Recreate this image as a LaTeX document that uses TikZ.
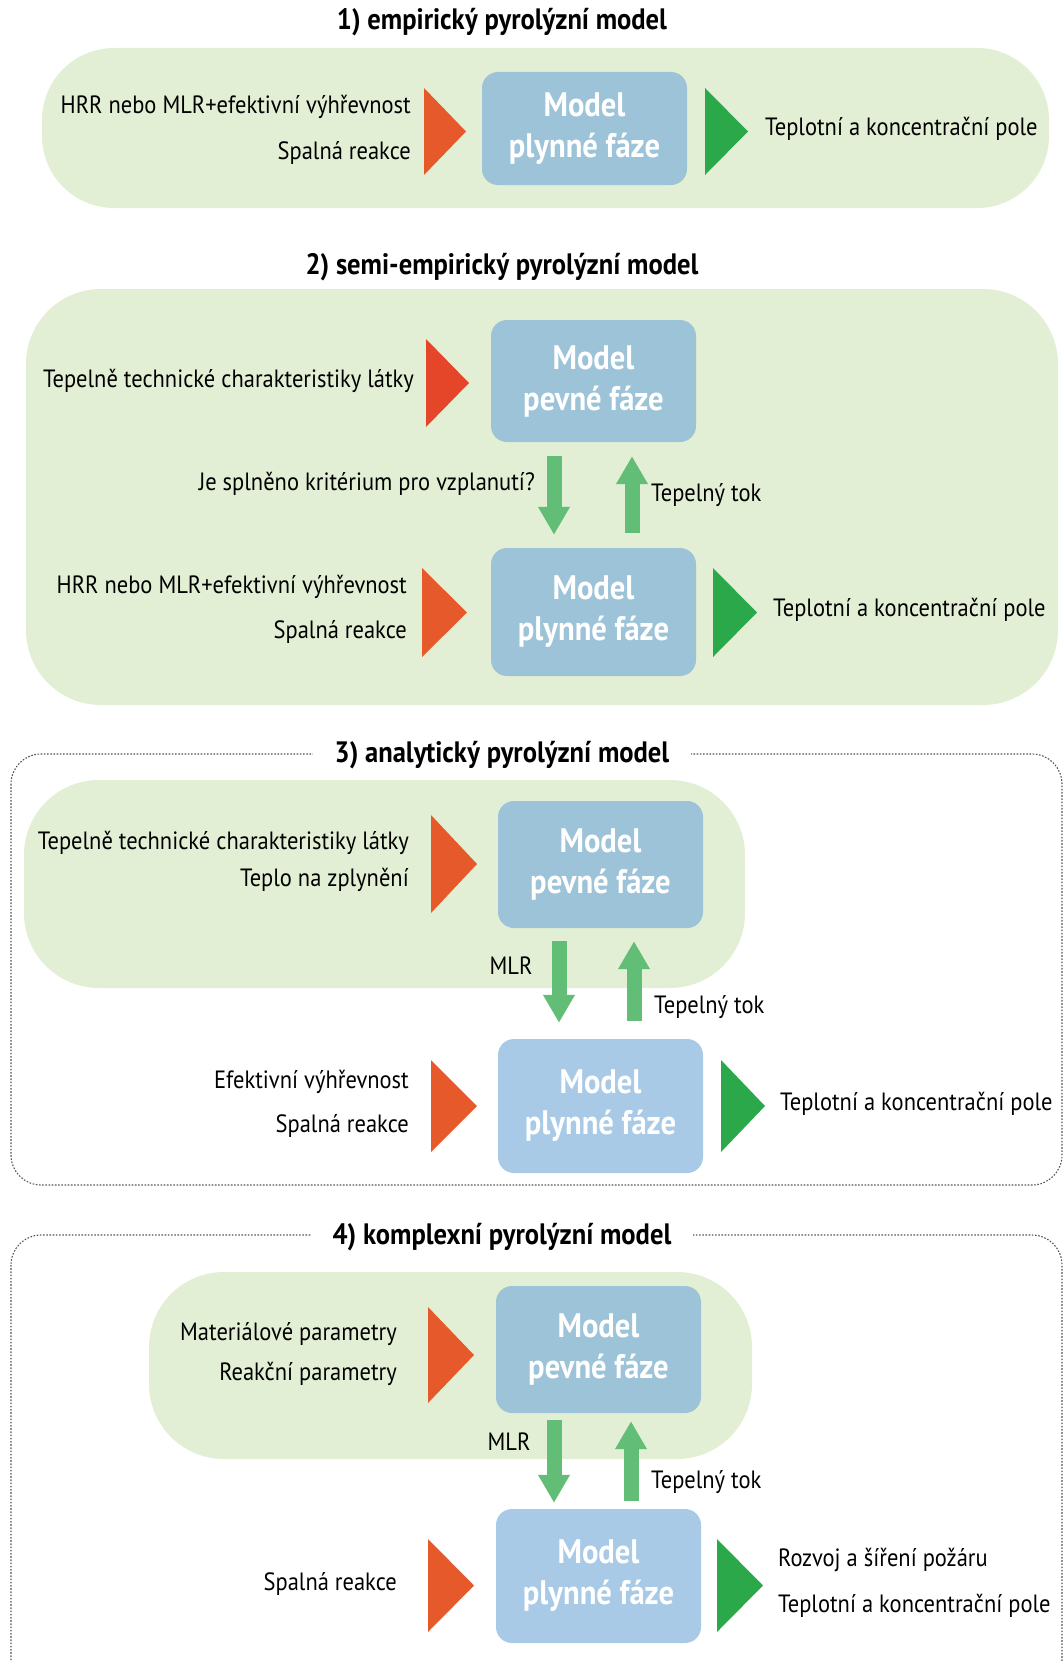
\documentclass[tikz,border=0pt]{standalone}
\usepackage{fontspec}
\setmainfont{PT Sans}[FakeStretch=0.9]
\usetikzlibrary{arrows.meta}
\definecolor{bggreen}{HTML}{E2EFD4}
\definecolor{boxblue}{HTML}{9CC3D8}
\definecolor{boxbluel}{HTML}{A8CAE6}
\definecolor{triorange}{HTML}{E5592A}
\definecolor{trired}{HTML}{E5462A}
\definecolor{trigreen}{HTML}{2BA84A}
\definecolor{arrgreen}{HTML}{62BE76}
\definecolor{framegray}{HTML}{555555}
\tikzset{
  bgbox/.style={fill=bggreen, rounded corners=72},
  bluebox/.style={fill=boxblue, rounded corners=16, text=white,
    font=\bfseries\fontsize{34}{41}\selectfont, align=center,
    minimum width=205, inner sep=0},
  lbl/.style={font=\fontsize{25}{30}\selectfont, inner sep=0},
  ttl/.style={font=\bfseries\fontsize{29.5}{35}\selectfont, inner sep=0},
  ttlgap/.style={ttl, fill=white, inner xsep=22, inner ysep=3},
  fat/.style={draw=arrgreen, line width=15, -{Triangle[width=30pt,length=28pt]}},
  frm/.style={draw=framegray, line width=1.1, dash pattern=on 1.6pt off 1.6pt, rounded corners=30},
}
\newcommand{\mytri}[5]{\fill[#1] (#2,#4) -- (#3,{(#4+#5)/2}) -- (#2,#5) -- cycle;}
\begin{document}
\begin{tikzpicture}[x=1pt,y=-1pt]
\useasboundingbox (0,0) rectangle (1063,1662);

% ---------- 1 ----------
\fill[bgbox] (42,48) rectangle (1049,208);
\node[ttl] (t1) at (502,22) {1) empirický pyrolýzní model};
\node[bluebox, minimum height=113] (g1) at (584.5,128.5) {Model\\plynné fáze};
\mytri{triorange}{424}{466}{88}{175}
\mytri{trigreen}{705}{748}{88}{175}
\node[lbl, anchor=mid east] (a1) at (411,111) {HRR nebo MLR+efektivní výhřevnost};
\node[lbl, anchor=mid east] (b1) at (411,157) {Spalná reakce};
\node[lbl, anchor=mid west] (c1) at (765,133) {Teplotní a koncentrační pole};

% ---------- 2 ----------
\fill[bgbox, rounded corners=75] (26,289) rectangle (1058,705);
\node[ttl] (t2) at (502,267) {2) semi-empirický pyrolýzní model};
\node[bluebox, minimum height=122] (p2) at (593.5,381) {Model\\pevné fáze};
\node[bluebox, minimum height=128] (g2) at (593.5,612) {Model\\plynné fáze};
\mytri{trired}{426}{469}{339}{427}
\node[lbl, anchor=mid east] (a2) at (414,385) {Tepelně technické charakteristiky látky};
\draw[fat, shorten <=14pt, shorten >=13pt] ([xshift=-39.5]p2.south) -- ([xshift=-39.5]g2.north);
\draw[fat, shorten <=15pt, shorten >=14pt] ([xshift=38.5]g2.north) -- ([xshift=38.5]p2.south);
\node[lbl, anchor=mid east] (q2) at (535,488) {Je splněno kritérium pro vzplanutí?};
\node[lbl, anchor=mid west] (h2) at (651,499) {Tepelný tok};
\mytri{triorange}{422}{467}{568}{657}
\mytri{trigreen}{713}{757}{568}{657}
\node[lbl, anchor=mid east] (b2) at (407,591) {HRR nebo MLR+efektivní výhřevnost};
\node[lbl, anchor=mid east] (c2) at (407,636) {Spalná reakce};
\node[lbl, anchor=mid west] (d2) at (773,614) {Teplotní a koncentrační pole};

% ---------- 3 ----------
\draw[frm] (11,754) rectangle (1062,1185);
\node[ttlgap] (t3) at (502,755) {3) analytický pyrolýzní model};
\fill[bgbox, rounded corners=75] (24,780) rectangle (745,988);
\node[bluebox, minimum height=127] (p3) at (600.5,864.5) {Model\\pevné fáze};
\node[bluebox, fill=boxbluel, minimum height=134] (g3) at (600.5,1106) {Model\\plynné fáze};
\mytri{triorange}{431}{477}{815}{913}
\node[lbl, anchor=mid east] (a3) at (409,847) {Tepelně technické charakteristiky látky};
\node[lbl, anchor=mid east] (b3) at (409,884) {Teplo na zplynění};
\draw[fat, shorten <=13pt, shorten >=16pt] ([xshift=-41.5]p3.south) -- ([xshift=-41.5]g3.north);
\draw[fat, shorten <=18pt, shorten >=13pt] ([xshift=33.5]g3.north) -- ([xshift=33.5]p3.south);
\node[lbl] (m3) at (511,966) {MLR};
\node[lbl, anchor=mid west] (h3) at (654,1011) {Tepelný tok};
\mytri{triorange}{431}{477}{1060}{1152}
\mytri{trigreen}{721}{765}{1060}{1152}
\node[lbl, anchor=mid east] (c3) at (409,1086) {Efektivní výhřevnost};
\node[lbl, anchor=mid east] (e3) at (409,1130) {Spalná reakce};
\node[lbl, anchor=mid west] (d3) at (780,1108) {Teplotní a koncentrační pole};

% ---------- 4 ----------
\begin{scope}
\clip (0,0) rectangle (1063,1662);
\draw[frm] (11,1235) rectangle (1062,1720);
\end{scope}
\node[ttlgap] (t4) at (502,1237) {4) komplexní pyrolýzní model};
\fill[bgbox, rounded corners=75] (149,1272) rectangle (752,1459);
\node[bluebox, minimum height=127] (p4) at (598.5,1349.5) {Model\\pevné fáze};
\node[bluebox, fill=boxbluel, minimum height=134] (g4) at (598.5,1576) {Model\\plynné fáze};
\mytri{triorange}{428}{474}{1307}{1403}
\node[lbl, anchor=mid east] (a4) at (397,1338) {Materiálové parametry};
\node[lbl, anchor=mid east] (b4) at (397,1378) {Reakční parametry};
\draw[fat, shorten <=7pt, shorten >=6pt] ([xshift=-44.5]p4.south) -- ([xshift=-44.5]g4.north);
\draw[fat, shorten <=8pt, shorten >=8pt] ([xshift=32.5]g4.north) -- ([xshift=32.5]p4.south);
\node[lbl] (m4) at (509,1442) {MLR};
\node[lbl, anchor=mid west] (h4) at (651,1486) {Tepelný tok};
\mytri{triorange}{428}{474}{1539}{1632}
\mytri{trigreen}{717}{763}{1539}{1632}
\node[lbl, anchor=mid east] (c4) at (397,1588) {Spalná reakce};
\node[lbl, anchor=mid west] (d4) at (778,1564) {Rozvoj a šíření požáru};
\node[lbl, anchor=mid west] (e4) at (778,1610) {Teplotní a koncentrační pole};
\end{tikzpicture}
\end{document}
